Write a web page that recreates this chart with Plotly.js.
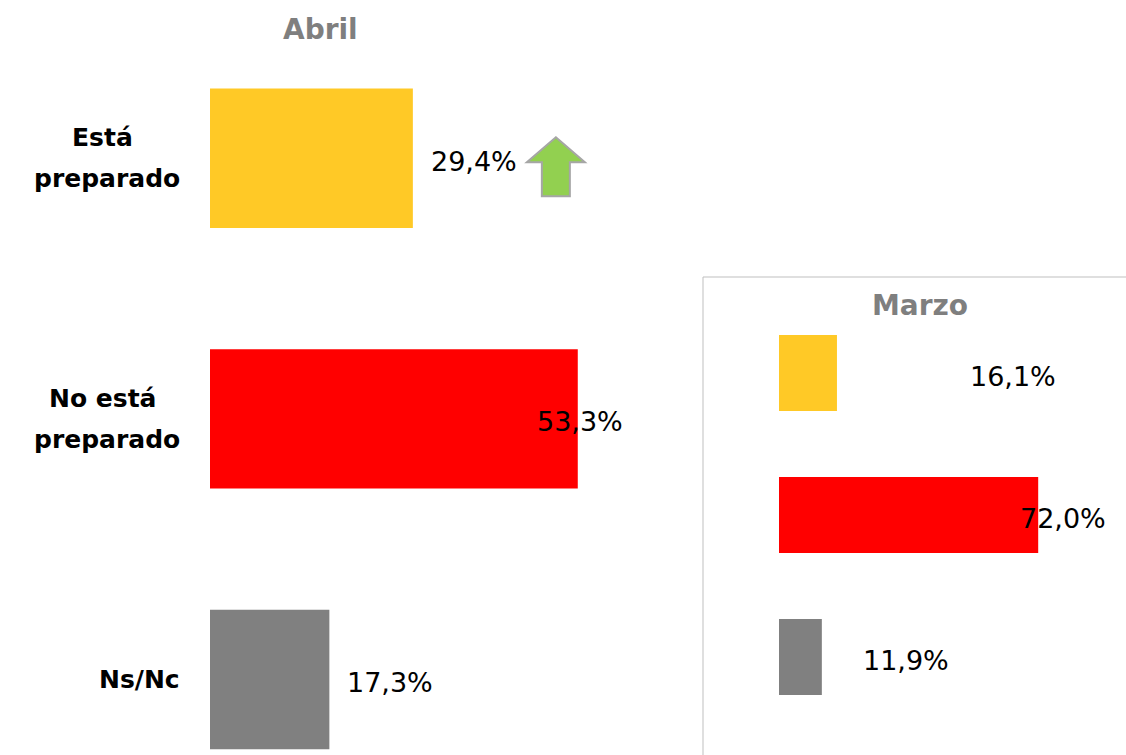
<!DOCTYPE html>
<html>
<head>
<meta charset="utf-8">
<script src="https://cdn.plot.ly/plotly-3.0.1.min.js"></script>
<style>
  html, body { margin: 0; padding: 0; background: #fff; }
  #chart { width: 1126px; height: 755px; }
</style>
</head>
<body>
<div id="chart"></div>
<script>
var categories = ['Está preparado', 'No está preparado', 'Ns/Nc'];
var catLines = [['Está ', 'preparado'], ['No está ', 'preparado'], ['Ns/Nc']];
var abril = [29.4, 53.3, 17.3];
var marzo = [16.1, 72.0, 11.9];
var barColors = ['#FFC926', '#FF0000', '#808080'];

// label offsets in px from the bar end (as placed in the original)
var abrilShift = [16, -43, 16];
var marzoShift = [131, -20, 39];

var fmt = function (v) { return v.toFixed(1).replace('.', ',') + '%'; };
var font = 'DejaVu Sans';
var catSize = 25;
var lineGap = 41;
var blockRight = 180;

// measure label lines so each wrapped line is centred inside a right-aligned block
var ctx = document.createElement('canvas').getContext('2d');
ctx.font = 'bold ' + catSize + 'px "' + font + '"';

var trace1 = {
  x: abril,
  y: [0, 1, 2],
  type: 'bar',
  orientation: 'h',
  marker: { color: barColors },
  hoverinfo: 'none',
  xaxis: 'x',
  yaxis: 'y'
};

var trace2 = {
  x: marzo,
  y: [0, 1, 2],
  type: 'bar',
  orientation: 'h',
  marker: { color: barColors },
  hoverinfo: 'none',
  xaxis: 'x2',
  yaxis: 'y2'
};

var annotations = [];
abril.forEach(function (v, i) {
  annotations.push({
    x: v, y: i, xref: 'x', yref: 'y', xanchor: 'left', yanchor: 'middle',
    xshift: abrilShift[i], yshift: -3, showarrow: false, text: fmt(v),
    font: { family: font, size: 27, color: '#000' }
  });
});
catLines.forEach(function (lines, i) {
  var widths = lines.map(function (l) { return ctx.measureText(l).width; });
  var maxW = Math.max.apply(null, widths);
  lines.forEach(function (l, k) {
    annotations.push({
      x: 0, y: i, xref: 'paper', yref: 'y', xanchor: 'left', yanchor: 'middle',
      xshift: blockRight - maxW / 2 - widths[k] / 2 - 2,
      yshift: ((lines.length - 1) / 2 - k) * lineGap,
      showarrow: false, text: '<b>' + l.trim() + '</b>',
      font: { family: font, size: catSize, color: '#000' }
    });
  });
});
marzo.forEach(function (v, i) {
  annotations.push({
    x: v, y: i, xref: 'x2', yref: 'y2', xanchor: 'left', yanchor: 'middle',
    xshift: marzoShift[i], yshift: -3, showarrow: false, text: fmt(v),
    font: { family: font, size: 27, color: '#000' }
  });
});
annotations.push({
  x: 320 / 1126, y: 1 - 29 / 755, xref: 'paper', yref: 'paper',
  xanchor: 'center', yanchor: 'middle', showarrow: false, text: '<b>Abril</b>',
  font: { family: font, size: 28, color: '#7F7F7F' }
});
annotations.push({
  x: 920 / 1126, y: 1 - 305 / 755, xref: 'paper', yref: 'paper',
  xanchor: 'center', yanchor: 'middle', showarrow: false, text: '<b>Marzo</b>',
  font: { family: font, size: 28, color: '#7F7F7F' }
});

var hidden = { visible: false, fixedrange: true };

var layout = {
  width: 1126,
  height: 755,
  margin: { l: 0, r: 0, t: 0, b: 0 },
  paper_bgcolor: '#fff',
  plot_bgcolor: 'rgba(0,0,0,0)',
  showlegend: false,
  bargap: 0.465,
  xaxis: Object.assign({ domain: [210 / 1126, 693 / 1126], range: [0, 70], anchor: 'y' }, hidden),
  yaxis: Object.assign({ domain: [0, 1 - 28 / 755], range: [2.29, -0.5], anchor: 'x' }, hidden),
  xaxis2: Object.assign({ domain: [779 / 1126, 1121 / 1126], range: [0, 95], anchor: 'y2' }, hidden),
  yaxis2: Object.assign({ domain: [1 - 728 / 755, 1 - 302 / 755], range: [2.5, -0.5], anchor: 'x2' }, hidden),
  annotations: annotations,
  shapes: [
    // frame round the Marzo panel
    {
      type: 'path', xref: 'paper', yref: 'paper',
      path: 'M ' + (703 / 1126) + ',0 L ' + (703 / 1126) + ',' + (1 - 277 / 755) + ' L 1,' + (1 - 277 / 755),
      line: { color: '#BFBFBF', width: 1 }
    },
    // green up arrow next to the first Abril bar
    {
      type: 'path', xref: 'x', yref: 'y',
      xsizemode: 'pixel', ysizemode: 'pixel',
      xanchor: abril[0], yanchor: 0,
      path: 'M 143,21 L 172,-4 L 157,-4 L 157,-38 L 129,-38 L 129,-4 L 114,-4 Z',
      fillcolor: '#92D050',
      line: { color: '#A6A6A6', width: 2 }
    }
  ]
};

Plotly.newPlot('chart', [trace1, trace2], layout, { displayModeBar: false, staticPlot: true });
</script>
</body>
</html>
